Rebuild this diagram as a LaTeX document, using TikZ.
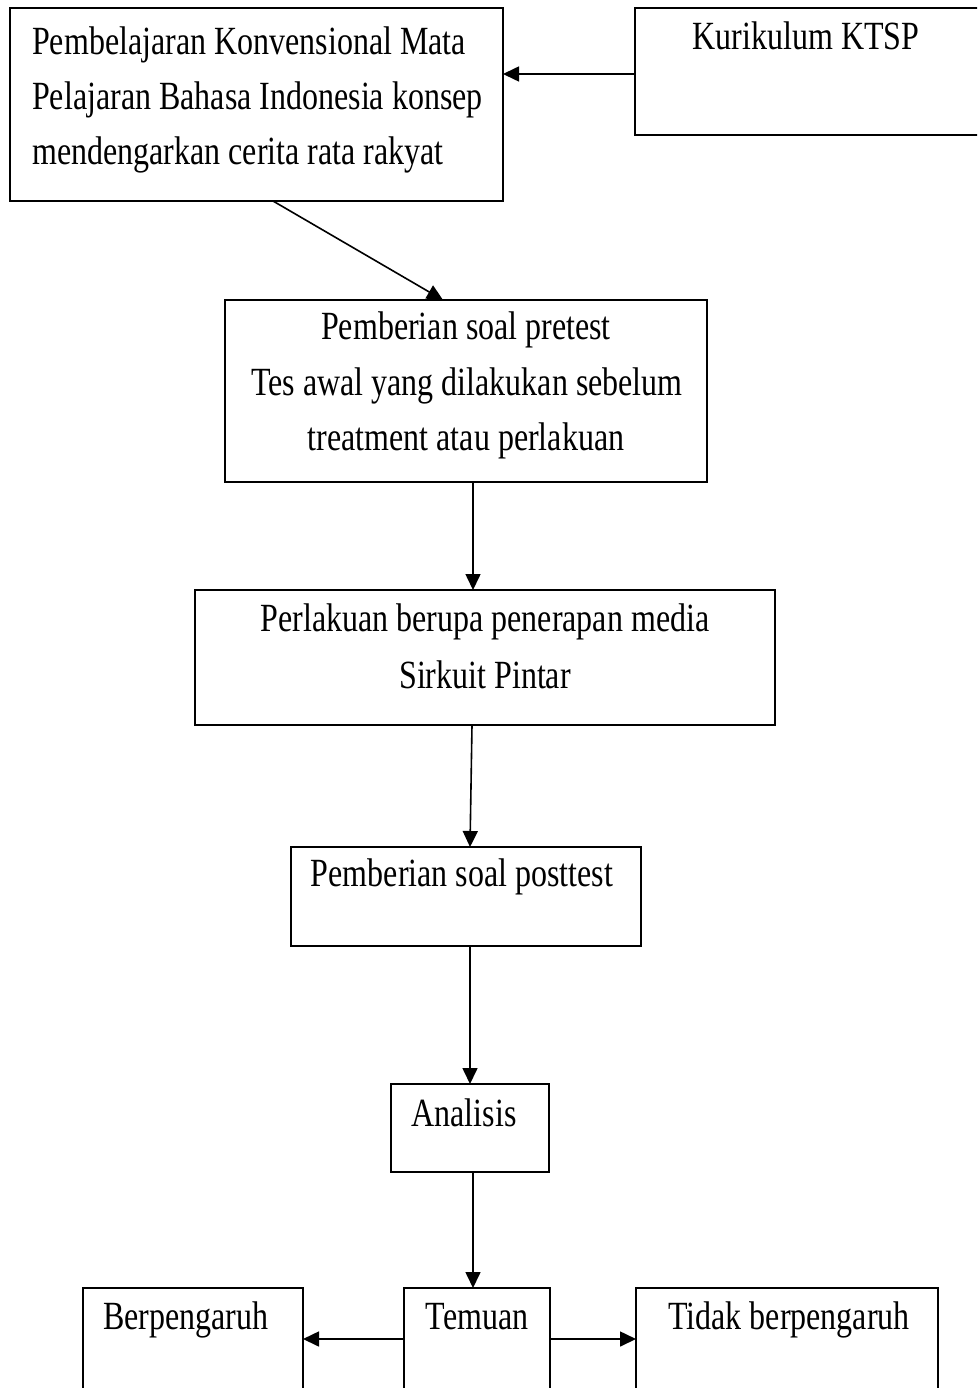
\documentclass[tikz,border=0pt]{standalone}
\usepackage{fontspec}
\setmainfont{Liberation Serif}
\usetikzlibrary{arrows.meta}
\newcommand{\vtxt}[1]{\scalebox{1}[1.25]{#1}}
\tikzset{
  box/.style={draw, line width=1.6pt, rectangle, inner sep=0pt, outer sep=0pt},
  txt/.style={anchor=base, inner sep=0pt, font=\fontsize{32}{40}\selectfont},
  txtl/.style={txt, anchor=base west},
  arr/.style={line width=1.6pt, -{Triangle[length=16pt,width=15pt]}}
}
\begin{document}
\begin{tikzpicture}[x=1pt,y=-1pt]
\useasboundingbox (0,0) rectangle (977,1388);
\clip (0,0) rectangle (977,1388);
% boxes
\node[box, minimum width=493pt, minimum height=193pt] (b1) at (256.5,104.5) {};
\node[box, minimum width=360pt, minimum height=127pt] (ktsp) at (815,71.5) {};
\node[box, minimum width=482pt, minimum height=182pt] (b2) at (466,391) {};
\node[box, minimum width=580pt, minimum height=135pt] (b3) at (485,657.5) {};
\node[box, minimum width=350pt, minimum height=99pt] (b4) at (466,896.5) {};
\node[box, minimum width=158pt, minimum height=88pt] (b5) at (470,1128) {};
\node[box, minimum width=146pt, minimum height=102pt] (tem) at (477,1339) {};
\node[box, minimum width=220pt, minimum height=102pt] (berp) at (193,1339) {};
\node[box, minimum width=302pt, minimum height=102pt] (tidak) at (787,1339) {};
% texts
\node[txtl] (t1a) at (32,55) {\vtxt{Pembelajaran Konvensional Mata}};
\node[txtl] (t1b) at (32,110) {\vtxt{Pelajaran Bahasa Indonesia konsep}};
\node[txtl] (t1c) at (32,165) {\vtxt{mendengarkan cerita rata rakyat}};
\node[txt] (tk) at (806,50) {\vtxt{Kurikulum KTSP}};
\node[txt] (t2a) at (466,339) {\vtxt{Pemberian soal pretest}};
\node[txt] (t2b) at (467,395) {\vtxt{Tes awal yang dilakukan sebelum}};
\node[txt] (t2c) at (466,450) {\vtxt{treatment atau perlakuan}};
\node[txt] (t3a) at (485,631) {\vtxt{Perlakuan berupa penerapan media}};
\node[txt] (t3b) at (485,688) {\vtxt{Sirkuit Pintar}};
\node[txt] (t4) at (462,886) {\vtxt{Pemberian soal posttest}};
\node[txt] (t5) at (464,1126) {\vtxt{Analisis}};
\node[txt] (ttem) at (477,1329) {\vtxt{Temuan}};
\node[txt] (tberp) at (186,1329) {\vtxt{Berpengaruh}};
\node[txt] (ttid) at (789,1329) {\vtxt{Tidak berpengaruh}};
% connectors
\draw[arr] ([yshift=-2.5pt]ktsp.west) -- ([yshift=-2.5pt]ktsp.west -| b1.east);
\draw[arr] ([xshift=16.5pt]b1.south) -- ([xshift=-23pt]b2.north);
\draw[arr] ([xshift=7pt]b2.south) -- ([xshift=7pt]b2.south |- b3.north);
\draw[arr] ([xshift=-13pt]b3.south) -- ([xshift=4pt]b4.north);
\draw[arr] ([xshift=4pt]b4.south) -- ([xshift=4pt]b4.south |- b5.north);
\draw[arr] ([xshift=3pt]b5.south) -- ([xshift=3pt]b5.south |- tem.north);
\draw[arr] (tem.west) -- (berp.east);
\draw[arr] (tem.east) -- (tidak.west);
\end{tikzpicture}
\end{document}
